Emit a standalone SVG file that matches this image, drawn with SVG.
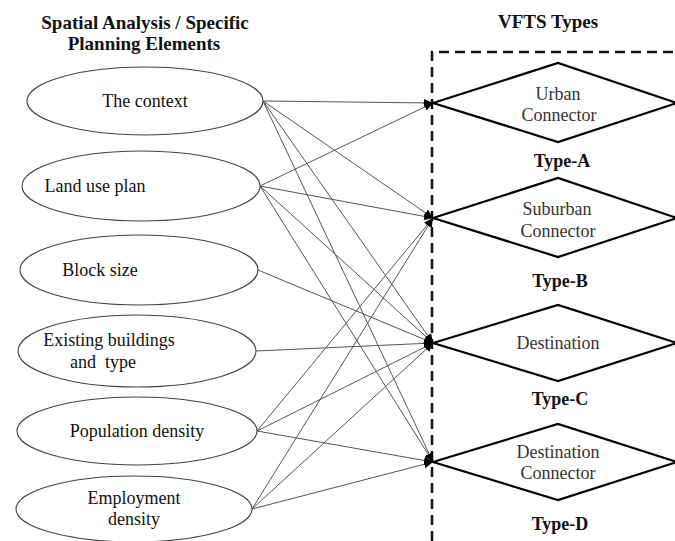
<svg xmlns="http://www.w3.org/2000/svg" width="675" height="541" viewBox="0 0 675 541">
  <defs>
    <marker id="arrow" markerUnits="userSpaceOnUse" markerWidth="10" markerHeight="9" refX="9" refY="4.5" orient="auto">
      <path d="M0,0.5 L9,4.5 L0,8.5 z" fill="#000"/>
    </marker>
    <style>
      .title { font-family: "Liberation Serif", "Times New Roman", serif; font-weight: bold; font-size: 19px; fill: #111; text-anchor: middle; }
      .elem  { fill: #fff; stroke: #444; stroke-width: 1.1; }
      .etext { font-family: "Liberation Serif", "Times New Roman", serif; font-size: 18px; fill: #111; text-anchor: middle; }
      .dia   { fill: #fff; stroke: #000; stroke-width: 2.2; stroke-linejoin: miter; }
      .dtext { font-family: "Liberation Serif", "Times New Roman", serif; font-size: 18px; fill: #333; text-anchor: middle; }
      .ttext { font-family: "Liberation Serif", "Times New Roman", serif; font-weight: bold; font-size: 18px; fill: #111; text-anchor: middle; }
      .frame { fill: none; stroke: #111; stroke-width: 2.5; stroke-dasharray: 10 6; }
      .link  { stroke: #555; stroke-width: 1; fill: none; marker-end: url(#arrow); }
    </style>
  </defs>
  <rect width="675" height="541" fill="#fff"/>

  <!-- column headings -->
  <text class="title" x="145" y="29">Spatial Analysis / Specific</text>
  <text class="title" x="144" y="50">Planning Elements</text>
  <text class="title" x="548" y="28">VFTS Types</text>

  <!-- dashed frame around the types -->
  <path class="frame" d="M432,541 V52 H675"/>

  <!-- connectors from planning elements to types -->
  <g id="connectors">
    <line class="link" x1="263" y1="101" x2="433" y2="103"/>
    <line class="link" x1="263" y1="101" x2="433" y2="218"/>
    <line class="link" x1="263" y1="101" x2="433" y2="343"/>
    <line class="link" x1="263" y1="101" x2="433" y2="462"/>
    <line class="link" x1="260" y1="186" x2="433" y2="103"/>
    <line class="link" x1="260" y1="186" x2="433" y2="218"/>
    <line class="link" x1="260" y1="186" x2="433" y2="343"/>
    <line class="link" x1="260" y1="186" x2="433" y2="462"/>
    <line class="link" x1="258" y1="270" x2="433" y2="343"/>
    <line class="link" x1="256" y1="351" x2="433" y2="343"/>
    <line class="link" x1="257" y1="431" x2="433" y2="218"/>
    <line class="link" x1="257" y1="431" x2="433" y2="343"/>
    <line class="link" x1="257" y1="431" x2="433" y2="462"/>
    <line class="link" x1="252" y1="509" x2="433" y2="218"/>
    <line class="link" x1="252" y1="509" x2="433" y2="343"/>
    <line class="link" x1="252" y1="509" x2="433" y2="462"/>
  </g>

  <!-- planning elements -->
  <g id="context">
    <ellipse class="elem" cx="145" cy="101" rx="118" ry="34"/>
    <text class="etext" x="145" y="107">The context</text>
  </g>
  <g id="land-use">
    <ellipse class="elem" cx="141" cy="186" rx="119" ry="35"/>
    <text class="etext" x="95" y="192">Land use plan</text>
  </g>
  <g id="block-size">
    <ellipse class="elem" cx="139" cy="270" rx="119" ry="35"/>
    <text class="etext" x="100" y="276">Block size</text>
  </g>
  <g id="existing-buildings">
    <ellipse class="elem" cx="137" cy="351" rx="119" ry="36"/>
    <text class="etext" x="109" y="346">Existing buildings</text>
    <text class="etext" x="103" y="368" xml:space="preserve">and  type</text>
  </g>
  <g id="population-density">
    <ellipse class="elem" cx="137" cy="431" rx="120" ry="34"/>
    <text class="etext" x="137" y="437">Population density</text>
  </g>
  <g id="employment-density">
    <ellipse class="elem" cx="134" cy="509" rx="118" ry="33"/>
    <text class="etext" x="134" y="504">Employment</text>
    <text class="etext" x="134" y="525">density</text>
  </g>

  <!-- VFTS types -->
  <g id="type-a">
    <polygon class="dia" points="433,103 558,63 677,103 558,142"/>
    <text class="dtext" x="558" y="100">Urban</text>
    <text class="dtext" x="559" y="121">Connector</text>
    <text class="ttext" x="562" y="167">Type-A</text>
  </g>
  <g id="type-b">
    <polygon class="dia" points="433,218 558,178 677,218 558,257"/>
    <text class="dtext" x="557" y="215">Suburban</text>
    <text class="dtext" x="558" y="237">Connector</text>
    <text class="ttext" x="560" y="287">Type-B</text>
  </g>
  <g id="type-c">
    <polygon class="dia" points="433,343 558,305 677,343 558,381"/>
    <text class="dtext" x="558" y="349">Destination</text>
    <text class="ttext" x="560" y="405">Type-C</text>
  </g>
  <g id="type-d">
    <polygon class="dia" points="433,462 558,424 677,462 558,500"/>
    <text class="dtext" x="558" y="458">Destination</text>
    <text class="dtext" x="558" y="479">Connector</text>
    <text class="ttext" x="560" y="530">Type-D</text>
  </g>
</svg>
